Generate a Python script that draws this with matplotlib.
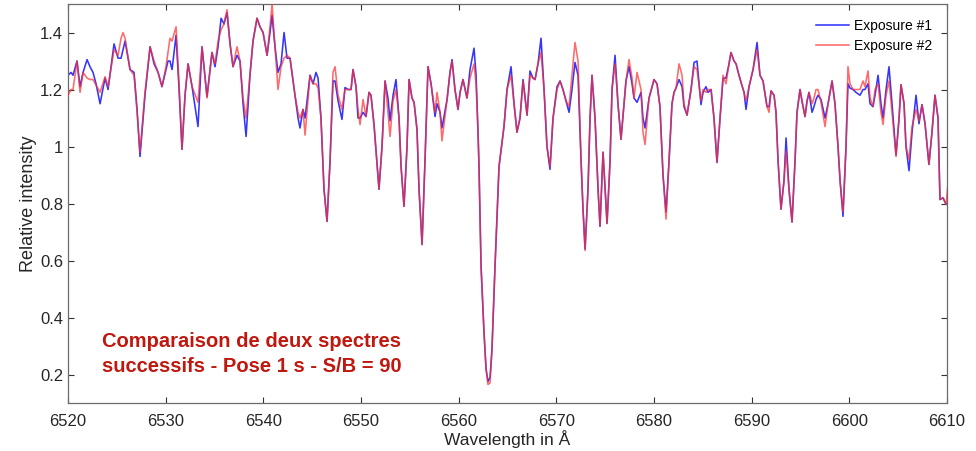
import matplotlib
matplotlib.use("Agg")
import matplotlib.pyplot as plt
from matplotlib.ticker import FixedLocator, FixedFormatter

plt.rcParams['font.family'] = ['Liberation Sans', 'DejaVu Sans']

# Wavelength in Å (offset from 6520) for each traced point
wl_offset = [
    0.00, 0.31, 0.51, 0.92, 1.23, 1.54, 1.95, 2.25, 2.56, 2.87,
    3.28, 3.79, 4.10, 4.71, 5.12, 5.43, 5.63, 5.84, 6.35, 6.76,
    7.07, 7.37, 7.88, 8.40, 8.81, 9.22, 9.62, 10.03, 10.24, 10.44,
    10.65, 11.06, 11.37, 11.67, 11.98, 12.29, 12.70, 13.31, 13.72, 14.23,
    14.74, 15.05, 15.36, 15.67, 15.97, 16.28, 16.59, 16.89, 17.30, 17.61,
    17.92, 18.23, 18.63, 18.94, 19.35, 19.66, 19.97, 20.38, 20.68, 20.89,
    21.19, 21.50, 21.81, 22.12, 22.42, 22.73, 23.24, 23.55, 23.75, 24.06,
    24.27, 24.78, 25.09, 25.39, 25.60, 25.90, 26.21, 26.52, 26.83, 27.13,
    27.34, 27.65, 28.05, 28.36, 28.67, 28.98, 29.18, 29.49, 29.69, 29.90,
    30.21, 30.51, 30.82, 31.02, 31.33, 31.84, 32.15, 32.46, 32.76, 32.97,
    33.28, 33.58, 33.89, 34.10, 34.40, 34.71, 34.92, 35.22, 35.43, 35.73,
    35.94, 36.25, 36.55, 36.86, 37.17, 37.58, 37.78, 38.09, 38.29, 38.81,
    39.11, 39.32, 39.62, 39.93, 40.14, 40.44, 40.85, 41.16, 41.57, 41.78,
    41.98, 42.08, 42.29, 42.59, 42.80, 43.00, 43.21, 43.41, 43.72, 44.13,
    44.64, 44.95, 45.36, 45.67, 45.97, 46.28, 46.59, 47.00, 47.30, 47.61,
    47.82, 48.12, 48.43, 48.74, 49.04, 49.35, 49.66, 50.07, 50.38, 50.68,
    50.99, 51.30, 51.60, 51.91, 52.22, 52.53, 52.73, 52.94, 53.24, 53.45,
    53.65, 53.96, 54.27, 54.47, 54.78, 55.19, 55.50, 55.70, 56.01, 56.31,
    56.62, 56.93, 57.13, 57.44, 57.75, 57.95, 58.26, 58.67, 58.87, 59.08,
    59.49, 60.00, 60.31, 60.61, 60.92, 61.23, 61.54, 61.84, 62.05, 62.25,
    62.56, 62.87, 63.07, 63.38, 63.79, 64.10, 64.40, 64.81, 65.02, 65.32,
    65.53, 65.84, 66.14, 66.45, 66.76, 67.07, 67.37, 67.68, 67.88, 68.19,
    68.40, 68.70, 68.91, 69.22, 69.42, 69.73, 70.14, 70.55, 70.85, 71.16,
    71.57, 71.78, 71.98, 72.29, 72.49, 72.70, 73.00, 73.31, 73.52, 73.82,
    74.13, 74.44, 74.64, 74.95, 75.15, 75.46, 75.67, 75.87, 76.18, 76.38,
    76.59, 76.79, 77.10, 77.51, 77.82, 78.23, 78.53, 78.84, 79.05, 79.35,
    79.66, 79.86, 80.07, 80.38, 80.68, 81.09, 81.40, 81.60, 81.91, 82.12,
    82.42, 82.63, 82.94, 83.24, 83.45, 83.76, 84.06, 84.37, 84.78, 85.09,
    85.29, 85.60, 85.80, 86.11, 86.42, 86.83, 87.13, 87.44, 87.75, 88.15,
    88.46, 88.77, 89.08, 89.28, 89.59, 89.90, 90.10,
]

exposure1 = [
    1.25, 1.26, 1.25, 1.30, 1.21, 1.26, 1.305, 1.28, 1.26, 1.22,
    1.15, 1.24, 1.20, 1.36, 1.31, 1.31, 1.34, 1.37, 1.27, 1.26,
    1.13, 0.965, 1.18, 1.35, 1.29, 1.26, 1.21, 1.27, 1.30, 1.30,
    1.27, 1.39, 1.20, 0.99, 1.18, 1.29, 1.21, 1.07, 1.35, 1.175,
    1.33, 1.28, 1.35, 1.45, 1.43, 1.47, 1.36, 1.28, 1.32, 1.30,
    1.15, 1.035, 1.25, 1.37, 1.45, 1.42, 1.40, 1.32, 1.40, 1.46,
    1.35, 1.26, 1.29, 1.40, 1.31, 1.31, 1.18, 1.10, 1.065, 1.13,
    1.10, 1.25, 1.22, 1.26, 1.24, 1.10, 0.85, 0.737, 0.95, 1.23,
    1.23, 1.16, 1.095, 1.207, 1.20, 1.20, 1.27, 1.21, 1.10, 1.10,
    1.12, 1.105, 1.19, 1.18, 1.077, 0.85, 1.00, 1.23, 1.17, 1.09,
    1.18, 1.235, 1.10, 0.93, 0.79, 1.00, 1.235, 1.17, 1.155, 1.06,
    0.85, 0.656, 0.95, 1.28, 1.22, 1.105, 1.15, 1.12, 1.065, 1.165,
    1.26, 1.305, 1.20, 1.13, 1.19, 1.235, 1.17, 1.27, 1.345, 1.25,
    1.05, 0.93, 0.58, 0.35, 0.22, 0.175, 0.19, 0.29, 0.58, 0.93,
    1.07, 1.20, 1.28, 1.15, 1.05, 1.10, 1.235, 1.11, 1.265, 1.24,
    1.235, 1.29, 1.38, 1.20, 1.00, 0.92, 1.10, 1.21, 1.23, 1.20,
    1.16, 1.12, 1.20, 1.295, 1.25, 0.95, 0.78, 0.64, 0.85, 1.10,
    1.25, 1.10, 0.85, 0.72, 0.98, 0.73, 0.95, 1.20, 1.32, 1.15,
    1.025, 1.15, 1.23, 1.28, 1.22, 1.17, 1.155, 1.19, 1.10, 1.065,
    1.17, 1.235, 1.22, 1.14, 0.90, 0.77, 0.95, 1.15, 1.19, 1.205,
    1.235, 1.21, 1.14, 1.11, 1.20, 1.295, 1.30, 1.147, 1.19, 1.21,
    1.19, 1.20, 1.10, 0.944, 1.10, 1.24, 1.24, 1.29, 1.33, 1.30,
    1.29, 1.25, 1.225, 1.19, 1.13, 1.21, 1.27, 1.365, 1.25, 1.23,
    1.14, 1.14, 1.195, 1.18, 1.12, 0.95, 0.78, 0.88, 1.03, 0.85,
    0.735, 0.95, 1.12, 1.20, 1.16, 1.105, 1.16, 1.19, 1.12, 1.14,
    1.165, 1.18, 1.165, 1.10, 1.15, 1.23, 1.15, 1.00, 0.88, 0.755,
    1.00, 1.22, 1.205, 1.20, 1.19, 1.18, 1.20, 1.20, 1.22, 1.15,
    1.14, 1.18, 1.25, 1.15, 1.10, 1.20, 1.28, 1.15, 0.97, 1.10,
    1.217, 1.15, 1.00, 0.915, 1.05, 1.18, 1.08, 1.147, 1.08, 0.937,
    1.05, 1.18, 1.10, 0.814, 0.82, 0.797, 0.80,
]

exposure2 = [
    1.18, 1.20, 1.20, 1.30, 1.19, 1.26, 1.24, 1.235, 1.235, 1.215,
    1.19, 1.245, 1.21, 1.34, 1.32, 1.38, 1.40, 1.38, 1.27, 1.25,
    1.12, 0.98, 1.19, 1.35, 1.30, 1.26, 1.21, 1.28, 1.33, 1.38,
    1.37, 1.42, 1.22, 0.99, 1.18, 1.29, 1.21, 1.155, 1.35, 1.17,
    1.33, 1.29, 1.37, 1.41, 1.43, 1.48, 1.36, 1.28, 1.35, 1.30,
    1.17, 1.10, 1.25, 1.37, 1.45, 1.42, 1.40, 1.32, 1.42, 1.50,
    1.35, 1.20, 1.28, 1.31, 1.32, 1.31, 1.18, 1.12, 1.10, 1.13,
    1.04, 1.25, 1.22, 1.22, 1.205, 1.10, 0.85, 0.737, 0.95, 1.26,
    1.28, 1.18, 1.13, 1.20, 1.20, 1.20, 1.27, 1.21, 1.13, 1.077,
    1.165, 1.105, 1.19, 1.18, 1.077, 0.85, 1.00, 1.23, 1.12, 1.035,
    1.16, 1.20, 1.10, 0.93, 0.79, 1.00, 1.235, 1.17, 1.155, 1.06,
    0.85, 0.656, 0.95, 1.28, 1.22, 1.12, 1.19, 1.12, 1.02, 1.165,
    1.26, 1.30, 1.20, 1.13, 1.19, 1.235, 1.17, 1.24, 1.29, 1.22,
    1.05, 0.93, 0.58, 0.35, 0.22, 0.165, 0.17, 0.29, 0.58, 0.93,
    1.07, 1.20, 1.25, 1.15, 1.05, 1.10, 1.23, 1.11, 1.25, 1.24,
    1.235, 1.29, 1.33, 1.20, 1.00, 0.93, 1.10, 1.20, 1.23, 1.20,
    1.16, 1.14, 1.25, 1.365, 1.30, 0.95, 0.78, 0.635, 0.85, 1.10,
    1.25, 1.10, 0.85, 0.72, 0.98, 0.73, 0.95, 1.20, 1.29, 1.15,
    1.025, 1.15, 1.23, 1.305, 1.24, 1.17, 1.26, 1.20, 1.05, 1.007,
    1.17, 1.235, 1.22, 1.14, 0.90, 0.745, 0.95, 1.15, 1.19, 1.205,
    1.29, 1.25, 1.15, 1.11, 1.20, 1.28, 1.27, 1.16, 1.20, 1.19,
    1.20, 1.20, 1.10, 0.944, 1.10, 1.25, 1.22, 1.29, 1.33, 1.30,
    1.29, 1.25, 1.225, 1.19, 1.16, 1.21, 1.27, 1.34, 1.25, 1.23,
    1.14, 1.12, 1.195, 1.18, 1.12, 0.95, 0.78, 0.88, 0.985, 0.85,
    0.735, 0.95, 1.12, 1.20, 1.16, 1.105, 1.16, 1.19, 1.15, 1.17,
    1.20, 1.20, 1.155, 1.07, 1.15, 1.23, 1.15, 1.00, 0.88, 0.77,
    1.00, 1.28, 1.22, 1.20, 1.20, 1.20, 1.23, 1.21, 1.265, 1.17,
    1.14, 1.20, 1.22, 1.12, 1.077, 1.18, 1.23, 1.12, 0.965, 1.10,
    1.217, 1.15, 1.00, 0.955, 1.07, 1.13, 1.09, 1.147, 1.08, 0.937,
    1.05, 1.18, 1.10, 0.814, 0.82, 0.797, 0.87,
]

wl_base = 6520.0
x_ticks = [6520, 6530, 6540, 6550, 6560, 6570, 6580, 6590, 6600, 6610]
y_ticks = [0.2, 0.4, 0.6, 0.8, 1.0, 1.2, 1.4]
y_tick_labels = ['0.2', '0.4', '0.6', '0.8', '1', '1.2', '1.4']
series_labels = ['Exposure #1', 'Exposure #2']
annotation = 'Comparaison de deux spectres\nsuccessifs - Pose 1 s - S/B = 90'

wl = [wl_base + d for d in wl_offset]

fig = plt.figure(figsize=(9.76, 4.51), dpi=100)
ax = fig.add_axes([0.0697, 0.1064, 0.9006, 0.8847])

ax.plot(wl, exposure1, color='#3535ff', lw=1.15, label=series_labels[0], zorder=2,
        solid_joinstyle='round')
ax.plot(wl, exposure2, color='#ff3030', lw=1.15, alpha=0.72, label=series_labels[1], zorder=3,
        solid_joinstyle='round')

ax.set_xlim(6520, 6610)
ax.set_ylim(0.1, 1.5)
ax.xaxis.set_major_locator(FixedLocator(x_ticks))
ax.yaxis.set_major_locator(FixedLocator(y_ticks))
ax.yaxis.set_major_formatter(FixedFormatter(y_tick_labels))
ax.tick_params(direction='in', top=True, right=True, length=4, width=0.8,
               colors='#333333', labelsize=12, labelcolor='#262626')
ax.tick_params(axis='x', pad=8)
for s in ax.spines.values():
    s.set_color('#6a6a6a')
    s.set_linewidth(0.9)

ax.set_xlabel('Wavelength in Å', fontsize=12.5, color='#262626', labelpad=1)
ax.set_ylabel('Relative intensity', fontsize=13, color='#262626', labelpad=2)

ax.text(6523.5, 0.272, annotation, color='#c0180f', fontsize=14.5, fontweight='bold',
        ha='left', va='center', linespacing=1.4)

leg = ax.legend(loc='upper right', frameon=False, fontsize=10, handlelength=2.4,
                borderaxespad=0.65, labelspacing=0.45, handletextpad=0.35)

fig.savefig('out.png', dpi=100)
